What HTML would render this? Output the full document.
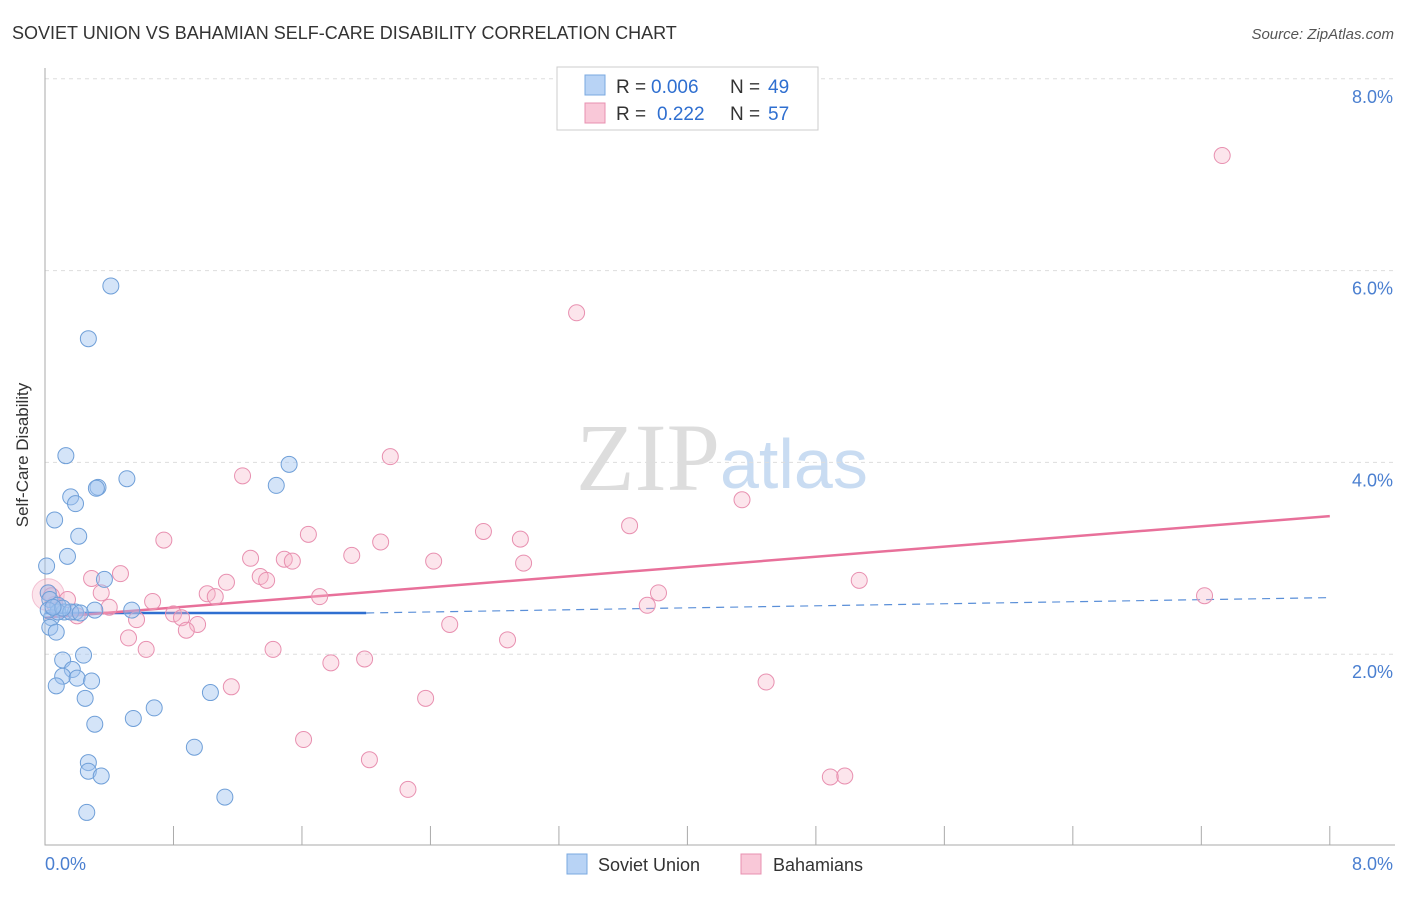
<!DOCTYPE html>
<html><head><meta charset="utf-8"><style>
body{margin:0;background:#fff;font-family:"Liberation Sans",sans-serif}
</style></head><body>
<svg width="1406" height="892" xmlns="http://www.w3.org/2000/svg">
<text x="12" y="39" font-size="18" fill="#333">SOVIET UNION VS BAHAMIAN SELF-CARE DISABILITY CORRELATION CHART</text>
<text x="1394" y="39" font-size="15" fill="#555" font-style="italic" text-anchor="end">Source: ZipAtlas.com</text>
<text x="720" y="490" font-size="96" fill="#ddd" font-family="Liberation Serif,serif" text-anchor="end">ZIP</text>
<text x="720" y="488" font-size="70" fill="#c9dcf2" text-anchor="start">atlas</text>
<g id="grid"></g><g id="axes"></g><g id="trend"></g><g id="pts"></g>
<text x="28" y="455" font-size="17" fill="#333" transform="rotate(-90 28 455)" text-anchor="middle">Self-Care Disability</text>
<text x="45" y="870" font-size="18" fill="#4a7fd0">0.0%</text>
<text x="1393" y="870" font-size="18" fill="#4a7fd0" text-anchor="end">8.0%</text>
<g>
<rect x="557" y="67" width="261" height="63" fill="#fff" stroke="#ccc"/>
<rect x="585" y="75" width="20" height="20" fill="#b8d3f5" stroke="#7aa8e0"/>
<rect x="585" y="103" width="20" height="20" fill="#f9c8d8" stroke="#e890b0"/>
<text x="616" y="93" font-size="19" fill="#333">R =</text>
<text x="651" y="93" font-size="19" fill="#2f6fd0">0.006</text>
<text x="730" y="93" font-size="19" fill="#333">N =</text>
<text x="768" y="93" font-size="19" fill="#2f6fd0">49</text>
<text x="616" y="120" font-size="19" fill="#333">R =</text>
<text x="657" y="120" font-size="19" fill="#2f6fd0">0.222</text>
<text x="730" y="120" font-size="19" fill="#333">N =</text>
<text x="768" y="120" font-size="19" fill="#2f6fd0">57</text>
</g>
<g>
<rect x="567" y="854" width="20" height="20" fill="#b8d3f5" stroke="#7aa8e0"/>
<text x="598" y="871" font-size="18" fill="#333">Soviet Union</text>
<rect x="741" y="854" width="20" height="20" fill="#f9c8d8" stroke="#e890b0"/>
<text x="773" y="871" font-size="18" fill="#333">Bahamians</text>
</g>
</svg>
<script>
const yTicks=[2,4,6,8];
const xTicks=[0,0.8,1.6,2.4,3.2,4,4.8,5.6,6.4,7.2,8];
const sovietX=[0.41,0.27,0.13,1.52,0.33,0.32,0.51,1.44,0.16,0.19,0.06,0.21,0.14,0.01,0.37,0.02,0.03,0.08,0.12,0.19,0.31,0.54,0.04,0.03,0.07,0.24,0.11,0.17,0.11,0.20,0.29,0.07,0.25,1.03,0.68,0.55,0.31,0.93,0.27,0.27,0.35,1.12,0.26,0.08,0.16,0.02,0.22,0.11,0.05];
const sovietY=[5.84,5.29,4.07,3.98,3.74,3.73,3.83,3.76,3.64,3.57,3.40,3.23,3.02,2.92,2.78,2.64,2.57,2.51,2.44,2.44,2.46,2.46,2.38,2.28,2.23,1.99,1.94,1.84,1.77,1.75,1.72,1.67,1.54,1.60,1.44,1.33,1.27,1.03,0.87,0.78,0.73,0.51,0.35,2.44,2.44,2.46,2.43,2.48,2.49];
const bahX=[7.33,3.31,2.15,1.23,4.34,3.64,1.64,2.73,0.74,2.09,2.96,1.91,1.28,1.49,1.54,2.42,2.98,0.47,0.29,1.34,1.38,5.07,1.13,0.02,0.35,1.01,1.06,3.82,1.71,0.14,0.67,0.06,0.40,3.75,7.22,0.80,0.85,0.95,0.57,0.20,0.88,2.52,0.52,2.88,0.63,1.42,1.78,1.99,1.16,2.37,4.49,1.61,2.02,4.89,4.98,2.26,0.04];
const bahY=[7.20,5.56,4.06,3.86,3.61,3.34,3.25,3.28,3.19,3.17,3.20,3.03,3.00,2.99,2.97,2.97,2.95,2.84,2.79,2.81,2.77,2.77,2.75,2.64,2.64,2.63,2.60,2.64,2.60,2.57,2.55,2.52,2.49,2.51,2.61,2.42,2.38,2.31,2.36,2.40,2.25,2.31,2.17,2.15,2.05,2.05,1.91,1.95,1.66,1.54,1.71,1.11,0.90,0.72,0.73,0.59,2.61];
const sovietTrend=[2.43,2.43,2.59];
const bahTrend=[2.38,3.44];
const X=v=>45+v*160.6, Y=v=>846-v*95.9;
const NS="http://www.w3.org/2000/svg";
function mk(p,t,a){const e=document.createElementNS(NS,t);for(const k in a)e.setAttribute(k,a[k]);document.getElementById(p).appendChild(e);return e;}
yTicks.forEach(t=>{
const l=mk('grid','line',{x1:45,x2:1395,y1:Y(t),y2:Y(t),stroke:'#ddd','stroke-dasharray':'4,4'});


const tx=mk('grid','text',{x:1393,y:Y(t)+24,'font-size':18,fill:'#4a7fd0','text-anchor':'end'});
tx.textContent=t.toFixed(1)+'%';


});
const ax=mk('axes','path',{d:'M45,68V845H1395',stroke:'#aaa',fill:'none'});


xTicks.forEach(t=>{
const l=mk('axes','line',{x1:X(t),x2:X(t),y1:826,y2:845,stroke:'#aaa'});


});
let t1=mk('trend','line',{x1:X(0),x2:X(2),y1:Y(sovietTrend[0]),y2:Y(sovietTrend[1]),stroke:'#2f6fd0','stroke-width':2.5});


let t2=mk('trend','line',{x1:X(2),x2:X(8),y1:Y(sovietTrend[1]),y2:Y(sovietTrend[2]),stroke:'#5a8fd8','stroke-width':1.2,'stroke-dasharray':'8,6'});


let t3=mk('trend','line',{x1:X(0),x2:X(8),y1:Y(bahTrend[0]),y2:Y(bahTrend[1]),stroke:'#e8709a','stroke-width':2.5});


const big=mk('pts','circle',{cx:X(0.02),cy:Y(2.62),r:16,fill:'rgba(245,180,200,0.35)',stroke:'rgba(232,144,176,0.5)'});


bahX.forEach((v,i)=>{
const c=mk('pts','circle',{cx:X(v),cy:Y(bahY[i]),r:8,fill:'rgba(245,180,200,0.35)',stroke:'#e890b0','stroke-width':1});


});
sovietX.forEach((v,i)=>{
const c=mk('pts','circle',{cx:X(v),cy:Y(sovietY[i]),r:8,fill:'rgba(160,196,240,0.45)',stroke:'#6f9fd8','stroke-width':1});


});
</script>
</body></html>
